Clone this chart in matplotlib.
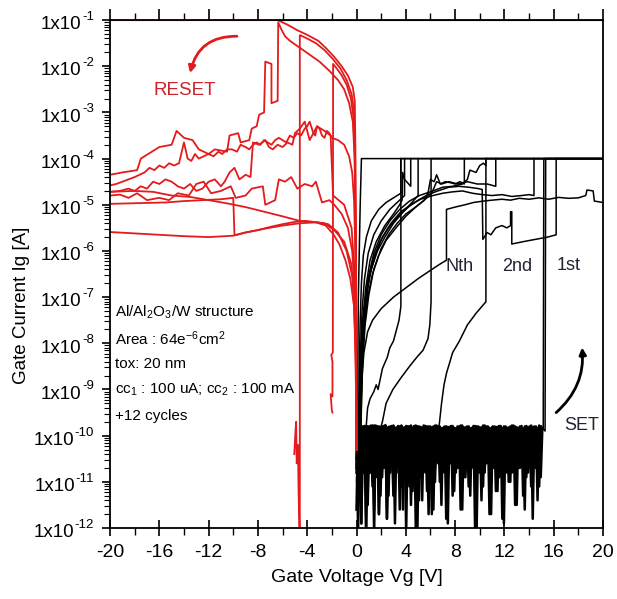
import numpy as np
import matplotlib.pyplot as plt
from matplotlib.ticker import LogLocator, MultipleLocator, FuncFormatter, NullFormatter

plt.rcParams['font.family'] = ['Liberation Sans', 'DejaVu Sans']
plt.rcParams['mathtext.fontset'] = 'custom'
plt.rcParams['mathtext.rm'] = 'Liberation Sans'
plt.rcParams['mathtext.it'] = 'Liberation Sans:italic'
plt.rcParams['mathtext.bf'] = 'Liberation Sans:bold'

RED = '#e41a1c'

y_tick_exponents = list(range(-12, 0))

# ---- SET (positive sweep) : noise floor before switching, log10(Ig) ----
noise_step_v = 0.13
noise_a = [
    -10.4, -9.8, -10.9, -9.78, -11.9, -9.82, -10.7, -9.8, -11.5, -9.85, -10.6, -9.78, -12.1, -9.8, -10.9, -9.83, -11.3, -9.8, -10.6, -9.77,
    -11.8, -9.82, -10.8, -9.8, -11.1, -9.84, -10.5, -9.79, -11.6, -9.8, -10.7, -9.82, -12.1, -9.8, -10.9, -9.78, -11.2, -9.83, -10.6, -9.8,
    -11.4, -9.81, -10.8, -9.79, -10.5, -9.84, -11.7, -9.8, -10.7, -9.82, -11.0, -9.78, -10.6, -9.8, -11.5, -9.83, -10.8, -9.8, -11.9, -9.81,
    -10.6, -9.79, -11.2, -9.84, -10.7, -9.8, -11.6, -9.78, -10.9, -9.82, -10.5, -9.8, -11.3, -9.83, -10.7, -9.79, -12.0, -9.8, -10.8, -9.82,
    -11.1, -9.78, -10.6, -9.8, -11.7, -9.84, -10.7, -9.8, -11.2, -9.81, -10.9, -9.79, -11.8, -9.8, -10.6, -9.83, -11.0, -9.8, -10.8, -9.78,
    -11.5, -9.82, -10.7, -9.8, -10.6, -9.84, -11.6, -9.79, -10.8, -9.8, -11.1, -9.82, -10.6, -9.8, -11.4, -9.78, -10.9, -9.83, -10.7, -9.8,
]
noise_b = [
    -9.8, -10.7, -9.83, -11.4, -9.79, -10.6, -9.82, -12.0, -9.8, -10.8, -9.78, -11.0, -9.84, -10.6, -9.8, -11.7, -9.81, -10.9, -9.79, -10.5,
    -9.83, -11.3, -9.8, -10.7, -9.78, -11.9, -9.82, -10.6, -9.8, -11.1, -9.84, -10.8, -9.79, -10.6, -9.8, -11.5, -9.82, -10.7, -9.78, -12.1,
    -9.8, -10.9, -9.83, -10.6, -9.79, -11.2, -9.8, -10.8, -9.82, -11.6, -9.78, -10.5, -9.8, -11.0, -9.84, -10.7, -9.8, -11.8, -9.81, -10.6,
    -9.79, -11.3, -9.83, -10.8, -9.8, -10.6, -9.78, -11.6, -9.82, -10.9, -9.8, -11.1, -9.84, -10.6, -9.79, -12.0, -9.8, -10.7, -9.82, -11.4,
    -9.78, -10.8, -9.8, -10.5, -9.83, -11.7, -9.8, -10.7, -9.81, -11.2, -9.79, -10.6, -9.84, -11.9, -9.8, -10.8, -9.82, -11.0, -9.78, -10.6,
    -9.8, -11.5, -9.83, -10.7, -9.79, -11.3, -9.8, -10.9, -9.82, -10.6, -9.78, -11.8, -9.8, -10.7, -9.84, -11.1, -9.8, -10.6, -9.81, -11.4,
]

# ---- SET cycles after the noise floor (V, log10 Ig) ----
set_first_v = [0.05, 0.15, 0.3, 0.4, 20.0]
set_first_log = [-10.5, -7.0, -5.0, -4.0, -4.0]

set_1st_v = [15.3, 15.35, 20.0]
set_1st_log = [-9.9, -4.0, -4.0]

set_late_v = [15.15, 15.2, 20.0]
set_late_log = [-9.85, -4.0, -4.0]

set_2nd_v = [6.7, 6.9, 7.1, 7.3, 7.8, 8.35, 9.0, 9.7, 10.5, 10.5, 20.0]
set_2nd_log = [-9.8, -9.3, -8.9, -8.65, -8.2, -7.95, -7.6, -7.35, -7.1, -4.0, -4.0]

set_c3_v = [2.1, 2.4, 2.95, 3.6, 4.3, 4.9, 5.4, 5.8, 5.95, 6.05, 6.05, 20.0]
set_c3_log = [-9.7, -9.3, -9.0, -8.75, -8.5, -8.3, -8.15, -7.9, -7.6, -7.1, -4.0, -4.0]

set_c4_v = [0.8, 0.9, 1.1, 1.4, 1.6, 1.75, 2.1, 2.5, 2.7, 3.0, 3.2, 3.45, 3.6, 3.6, 20.0]
set_c4_log = [-9.75, -9.4, -9.2, -9.05, -8.9, -9.0, -8.55, -8.3, -8.1, -7.95, -7.75, -7.5, -7.2, -4.0, -4.0]

set_nth_v = [0.3, 0.4, 0.6, 0.9, 1.3, 2.0, 3.0, 4.0, 5.0, 6.0, 6.8, 7.3, 7.3, 8.0, 8.8, 9.5, 10.3, 11.0,
             11.8, 12.5, 13.2, 14.0, 14.8, 15.6, 16.4, 17.2, 18.0, 18.6, 18.7, 19.2, 19.3, 20.0]
set_nth_log = [-9.8, -8.9, -8.2, -7.75, -7.5, -7.25, -7.0, -6.8, -6.6, -6.42, -6.28, -6.2, -5.1, -5.05, -5.0, -4.95, -4.92, -4.9,
               -4.88, -4.9, -4.86, -4.88, -4.85, -4.88, -4.84, -4.86, -4.85, -4.8, -4.68, -4.7, -4.92, -4.95]

set_f1_v = [0.15, 0.22, 0.3, 0.4, 0.55, 0.8, 1.2, 1.8, 2.4, 3.0, 3.6, 3.6]
set_f1_log = [-9.9, -8.6, -7.5, -6.7, -6.1, -5.7, -5.35, -5.1, -4.95, -4.85, -4.75, -4.0]

set_f2_v = [0.2, 0.3, 0.45, 0.65, 0.95, 1.4, 2.0, 2.7, 3.3, 3.9, 3.9]
set_f2_log = [-9.9, -8.4, -7.3, -6.6, -6.05, -5.65, -5.35, -5.1, -4.95, -4.8, -4.0]

set_f3_v = [0.25, 0.35, 0.5, 0.75, 1.1, 1.6, 2.3, 3.0, 3.5, 3.7, 3.75, 3.9, 4.4, 4.4]
set_f3_log = [-9.9, -8.5, -7.5, -6.8, -6.2, -5.8, -5.45, -5.2, -5.0, -4.9, -4.3, -4.45, -4.6, -4.0]

set_f4_v = [0.2, 0.35, 0.55, 0.85, 1.2, 1.7, 2.3, 3.0, 3.8, 4.5, 5.0, 5.0]
set_f4_log = [-9.9, -8.6, -7.6, -6.9, -6.4, -6.0, -5.7, -5.4, -5.15, -4.95, -4.8, -4.0]

set_f5_v = [0.3, 0.45, 0.7, 1.0, 1.4, 2.0, 2.6, 3.3, 4.0, 4.8, 5.5, 5.8, 6.0, 6.3, 6.5, 6.8, 7.2, 7.6, 8.0, 8.4, 8.75, 8.75]
set_f5_log = [-9.9, -8.6, -7.6, -6.95, -6.4, -5.95, -5.65, -5.4, -5.2, -5.05, -4.9, -4.75, -4.45, -4.5, -4.35, -4.55, -4.5, -4.52, -4.55, -4.5, -4.55, -4.0]

set_f6_v = [0.35, 0.45, 0.65, 0.95, 1.4, 2.0, 2.7, 3.5, 4.3, 5.1, 6.2, 7.0, 7.8, 8.6, 9.0, 9.2, 9.7, 10.0, 10.3, 10.5, 10.5]
set_f6_log = [-9.9, -8.4, -7.3, -6.6, -6.05, -5.65, -5.35, -5.1, -4.92, -4.8, -4.7, -4.62, -4.6, -4.55, -4.45, -4.25, -4.3, -4.15, -4.1, -4.15, -4.0]

set_f7_v = [0.25, 0.4, 0.6, 0.9, 1.3, 1.9, 2.6, 3.4, 4.2, 5.0, 5.8, 6.6, 7.5, 8.3, 9.1, 9.9, 10.2, 10.25, 10.6, 10.9,
            11.3, 11.8, 12.2, 12.5, 12.5, 12.6, 12.6, 13.5, 14.5, 15.5, 16.2, 16.2, 20.0]
set_f7_log = [-9.9, -8.5, -7.4, -6.7, -6.2, -5.8, -5.5, -5.25, -5.05, -4.9, -4.78, -4.7, -4.62, -4.6, -4.62, -4.65, -4.67, -5.75, -5.6, -5.65,
              -5.5, -5.45, -5.5, -5.45, -5.15, -5.15, -5.85, -5.8, -5.75, -5.7, -5.65, -4.0, -4.0]

set_f8_v = [0.3, 0.4, 0.6, 0.9, 1.3, 1.8, 2.4, 3.2, 4.0, 4.8, 5.5, 6.1, 6.5, 6.9, 7.5, 8.2, 9.0, 9.8, 10.6, 11.3, 11.3]
set_f8_log = [-9.9, -8.7, -7.7, -7.0, -6.5, -6.1, -5.77, -5.5, -5.25, -5.05, -4.9, -4.75, -4.5, -4.55, -4.5, -4.55, -4.5, -4.55, -4.55, -4.6, -4.0]

set_f9_v = [0.35, 0.5, 0.7, 1.0, 1.5, 2.1, 2.8, 3.6, 4.4, 5.2, 6.2, 7.0, 7.8, 8.6, 9.4, 10.2, 11.0, 11.8, 12.6, 13.4, 14.0, 14.4, 14.4]
set_f9_log = [-9.9, -8.4, -7.3, -6.6, -6.1, -5.7, -5.4, -5.15, -5.0, -4.88, -4.8, -4.75, -4.72, -4.7, -4.75, -4.78, -4.8, -4.78, -4.82, -4.8, -4.78, -4.8, -4.0]

# (switching curve, noise list, offset into noise list)
set_cycles = [
    (set_1st_v, set_1st_log, noise_a, 1), (set_late_v, set_late_log, noise_b, 1),
    (set_2nd_v, set_2nd_log, noise_b, 38), (set_c3_v, set_c3_log, noise_a, 70),
    (set_c4_v, set_c4_log, noise_b, 90), (set_nth_v, set_nth_log, noise_a, 5),
    (set_f1_v, set_f1_log, noise_b, 11), (set_f2_v, set_f2_log, noise_a, 23),
    (set_f3_v, set_f3_log, noise_b, 44), (set_f4_v, set_f4_log, noise_a, 60),
    (set_f5_v, set_f5_log, noise_b, 81), (set_f6_v, set_f6_log, noise_a, 99),
    (set_f7_v, set_f7_log, noise_b, 104), (set_f8_v, set_f8_log, noise_a, 28),
    (set_f9_v, set_f9_log, noise_b, 52),
]

# ---- RESET cycles (negative sweep), (V, log10 Ig) ----
reset_a_v = [0, -0.02, -0.05, -0.09, -0.14, -0.3, -0.7, -1.2, -1.8, -2.5, -3.1, -4.0, -4.8, -5.6, -6.4, -20.0]
reset_a_log = [-10.3, -8.0, -5.8, -3.8, -2.75, -2.45, -2.2, -2.0, -1.8, -1.6, -1.45, -1.32, -1.22, -1.1, -1.0, -1.0]

reset_b_v = [0, -0.03, -0.07, -0.12, -0.2, -0.4, -0.8, -1.3, -1.9, -2.6, -3.3, -4.0, -4.55, -4.6, -4.6,
             -4.7, -4.75, -4.85, -4.9, -4.95, -5.05]
reset_b_log = [-10.3, -7.5, -5.2, -3.7, -2.95, -2.6, -2.3, -2.05, -1.85, -1.65, -1.5, -1.4, -1.33, -1.33, -12.5,
               -11.2, -10.2, -10.6, -9.7, -9.9, -10.4]

reset_c_v = [0, -0.03, -0.08, -0.15, -0.25, -0.45, -0.8, -1.2, -1.6, -1.9, -1.92, -2.05, -1.95, -1.95, -2.1, -2.0, -1.95]
reset_c_log = [-10.3, -7.8, -5.5, -3.9, -3.1, -2.7, -2.4, -2.2, -2.05, -1.95, -8.2, -8.25, -8.4, -9.15, -9.1, -9.45, -9.5]

reset_d_v = [0, -0.03, -0.08, -0.15, -0.3, -0.6, -1.0, -1.5, -2.2, -3.0, -3.8, -4.6, -5.4, -5.8, -6.1, -6.35, -6.4,
             -6.9, -6.9, -7.4, -7.5, -7.9, -8.1, -8.5, -8.7, -9.4, -9.6, -10.3, -10.5, -11.5, -12.0, -12.8, -13.3,
             -14.0, -14.6, -15.0, -16.0, -17.5, -17.8, -19.0, -20.0]
reset_d_log = [-10.3, -7.9, -5.6, -4.0, -3.2, -2.8, -2.5, -2.3, -2.1, -1.9, -1.75, -1.6, -1.45, -1.35, -1.2, -1.05, -2.75,
               -2.8, -1.95, -1.9, -3.0, -3.05, -3.3, -3.35, -3.6, -3.65, -3.45, -3.5, -3.85, -3.8, -3.9, -3.8, -3.6,
               -3.55, -3.4, -3.7, -3.75, -4.0, -4.25, -4.3, -4.35]

reset_e_v = [0, -0.04, -0.1, -0.2, -0.35, -0.6, -1.0, -1.5, -2.0, -2.2, -2.4, -2.6, -2.8, -3.0, -3.2, -3.35,
             -3.5, -3.8, -4.0, -4.2, -4.5, -4.8, -5.1, -5.4, -5.7, -6.0, -6.3, -6.6, -6.9, -7.2, -7.5, -7.8,
             -8.1, -8.4, -8.7, -9.0, -9.4, -9.7, -10.1, -10.5, -10.9, -11.2, -11.6, -12.0, -12.4, -12.8, -13.1,
             -13.4, -13.7, -14.0, -14.4, -14.8, -15.2, -15.6, -16.0, -16.4, -16.8, -17.2, -17.6, -18.0, -18.5,
             -19.0, -19.5, -20.0]
reset_e_log = [-10.3, -7.6, -5.9, -4.9, -4.3, -3.95, -3.7, -3.6, -3.55, -3.45, -3.4, -3.55, -3.5, -3.35, -3.3, -3.5,
               -3.45, -3.2, -3.3, -3.35, -3.5, -3.45, -3.55, -3.5, -3.65, -3.6, -3.55, -3.6, -3.7, -3.65, -3.6, -3.7,
               -3.65, -3.7, -3.8, -3.75, -3.7, -3.85, -3.8, -3.8, -3.9, -3.85, -3.95, -3.9, -3.95, -4.0, -3.9,
               -4.05, -4.0, -3.65, -4.1, -4.15, -4.1, -4.2, -4.15, -4.25, -4.2, -4.3, -4.35, -4.4, -4.45,
               -4.5, -4.55, -4.58]

reset_f_v = [0, -0.05, -0.15, -0.4, -1.0, -1.9, -2.1, -2.6, -3.2, -3.5, -3.8, -4.2, -4.6, -5.0, -5.2, -5.6, -6.0,
             -6.4, -6.8, -7.1, -7.4, -7.9, -8.4, -8.6, -9.0, -9.5, -9.9, -10.3, -10.7, -11.0, -11.5, -12.0, -12.5,
             -13.0, -13.5, -14.0, -14.5, -15.0, -15.5, -16.0, -16.5, -17.0, -17.5, -18.0, -18.5, -19.2, -20.0]
reset_f_log = [-10.3, -8.0, -6.5, -5.5, -5.0, -4.8, -3.5, -3.4, -3.3, -3.45, -3.6, -3.2, -3.35, -3.45, -3.7, -3.65, -3.75,
               -3.7, -3.8, -3.75, -3.6, -3.7, -3.65, -4.4, -4.35, -4.45, -4.2, -4.3, -4.5, -4.6, -4.45, -4.5, -4.65,
               -4.7, -4.55, -4.65, -4.6, -4.5, -4.45, -4.55, -4.5, -4.65, -4.6, -4.7, -4.65, -4.7, -4.72]

reset_g_v = [0, -0.05, -0.15, -0.35, -0.7, -1.2, -1.8, -2.2, -2.8, -3.3, -3.6, -4.2, -4.8, -5.3, -5.8, -6.3, -6.6,
             -7.4, -7.6, -8.5, -9.0, -9.8, -10.2, -11.0, -11.8, -12.4, -13.0, -13.6, -14.5, -15.2, -16.0, -17.0,
             -17.8, -18.5, -19.2, -20.0]
reset_g_log = [-10.3, -8.2, -6.8, -6.0, -5.5, -5.2, -5.0, -4.9, -4.95, -4.5, -4.6, -4.55, -4.65, -4.4, -4.5, -4.45, -4.9,
               -5.0, -4.6, -4.65, -4.8, -4.85, -4.6, -4.7, -4.75, -4.5, -4.55, -4.8, -4.75, -4.9, -4.85, -4.9,
               -4.75, -4.85, -4.78, -4.8]

reset_h_v = [0, -0.08, -0.3, -0.8, -1.5, -2.3, -3.2, -4.6, -6.0, -7.5, -9.0, -9.9, -10.0, -11.0, -12.5, -14.0,
             -15.5, -17.0, -18.5, -20.0]
reset_h_log = [-10.3, -8.0, -6.6, -6.0, -5.6, -5.42, -5.38, -5.4, -5.45, -5.52, -5.6, -5.66, -4.85, -4.88, -4.9, -4.92,
               -4.95, -4.96, -4.97, -4.98]

reset_i_v = [0, -0.05, -0.2, -0.5, -0.9, -1.4, -1.9, -2.5, -3.3, -4.2, -5.0, -6.0, -7.0, -8.0, -9.0, -10.0,
             -12.0, -14.0, -16.0, -18.0, -20.0]
reset_i_log = [-10.3, -8.5, -7.2, -6.6, -6.2, -5.85, -5.63, -5.45, -5.38, -5.35, -5.37, -5.42, -5.48, -5.55, -5.6, -5.67,
               -5.7, -5.68, -5.65, -5.62, -5.59]

reset_j_v = [0, -0.1, -0.4, -1.0, -1.8, -2.6, -3.5, -4.6, -6.0, -7.5, -9.0, -10.5, -12.0, -13.5, -15.0, -16.5,
             -18.0, -20.0]
reset_j_log = [-10.3, -7.5, -6.3, -5.8, -5.55, -5.4, -5.37, -5.35, -5.25, -5.15, -5.05, -4.97, -4.9, -4.83, -4.8, -4.72,
               -4.7, -4.72]

reset_cycles = [
    (reset_a_v, reset_a_log), (reset_b_v, reset_b_log), (reset_c_v, reset_c_log), (reset_d_v, reset_d_log),
    (reset_e_v, reset_e_log), (reset_f_v, reset_f_log), (reset_g_v, reset_g_log), (reset_h_v, reset_h_log),
    (reset_i_v, reset_i_log), (reset_j_v, reset_j_log),
]

info_lines = ['Al/Al$_2$O$_3$/W structure', 'Area : 64e$^{-6}$cm$^2$', 'tox: 20 nm',
              'cc$_1$ : 100 uA; cc$_2$ : 100 mA', '+12 cycles']

# %% plot
fig = plt.figure(figsize=(6.17, 5.99), dpi=100)
ax = fig.add_axes([0.1783, 0.1185, 0.799, 0.848])

ax.plot(set_first_v, 10.0 ** np.array(set_first_log), color='k', lw=1.1)
for sv, slog, noise, off in set_cycles:
    n = int(sv[0] / noise_step_v)
    nlog = np.array(noise[off:off + n])
    nv = np.arange(len(nlog)) * noise_step_v
    ax.plot(nv, 10.0 ** nlog, color='k', lw=1.8)
    v = np.concatenate([nv[-1:], sv])
    lg = np.concatenate([nlog[-1:], slog])
    ax.plot(v, 10.0 ** lg, color='k', lw=1.1)

for rv, rlog in reset_cycles:
    ax.plot(rv, 10.0 ** np.array(rlog), color=RED, lw=1.3)

ax.set_yscale('log')
ax.set_xlim(-20, 20)
ax.set_ylim(1e-12, 1e-1)

ax.xaxis.set_major_locator(MultipleLocator(4))
ax.xaxis.set_minor_locator(MultipleLocator(2))
ax.yaxis.set_major_locator(LogLocator(base=10, numticks=20))
ax.yaxis.set_minor_locator(LogLocator(base=10, subs=np.arange(2, 10), numticks=20))
ax.yaxis.set_minor_formatter(NullFormatter())
ax.yaxis.set_major_formatter(NullFormatter())
ax.xaxis.set_major_formatter(FuncFormatter(lambda x, p: '%d' % x))

# y tick labels "1x10" with a small raised exponent
ytrans = ax.get_yaxis_transform()
for e in y_tick_exponents:
    sup = ax.text(-0.0325, 10.0 ** e, '-%d' % -e, transform=ytrans, fontsize=9.5,
                  ha='right', va='baseline')
    ax.annotate('1x10', xy=(0, 0), xycoords=sup, xytext=(-0.3, -4.5), textcoords='offset points',
                fontsize=13.5, ha='right', va='baseline', annotation_clip=False)

ax.tick_params(axis='x', which='major', direction='inout', length=11, width=1.2, labelsize=14, pad=6)
ax.tick_params(axis='x', which='minor', direction='out', length=5, width=1.0)
ax.tick_params(axis='y', which='major', direction='out', length=6, width=1.2)
ax.tick_params(axis='y', which='minor', direction='out', length=4, width=0.8)

top = ax.secondary_xaxis('top')
top.xaxis.set_major_locator(MultipleLocator(4))
top.xaxis.set_minor_locator(MultipleLocator(2))
top.tick_params(which='major', direction='out', length=8, width=1.2, labeltop=False)
top.tick_params(which='minor', direction='out', length=5, width=1.0)

for s in ax.spines.values():
    s.set_linewidth(1.3)

ax.set_xlabel('Gate Voltage Vg [V]', fontsize=14, labelpad=6)
ax.set_ylabel('Gate Current Ig [A]', fontsize=13.5)
ax.yaxis.set_label_coords(-0.162, 0.439)

for i, line in enumerate(info_lines):
    ax.text(-19.6, 10 ** (-7.33 - 0.56 * i), line, fontsize=11, va='center', ha='left')

ax.text(-13.95, 10 ** -2.52, 'RESET', color='#cc2229', fontsize=13.5, ha='center', va='center')
ax.text(8.35, 10 ** -6.34, 'Nth', fontsize=13, ha='center', va='center', color='#222233')
ax.text(13.0, 10 ** -6.34, '2nd', fontsize=13, ha='center', va='center', color='#222233')
ax.text(17.2, 10 ** -6.32, '1st', fontsize=13, ha='center', va='center', color='#222233')
ax.text(18.25, 10 ** -9.79, 'SET', fontsize=13, ha='center', va='center', color='#222233')

ax.annotate('', xy=(-13.5, 10 ** -2.15), xytext=(-9.7, 10 ** -1.35),
            arrowprops=dict(arrowstyle='-|>', color=RED, lw=2.0, mutation_scale=10,
                            connectionstyle='arc3,rad=0.4', shrinkA=0, shrinkB=0))
ax.annotate('', xy=(18.3, 10 ** -8.09), xytext=(16.2, 10 ** -9.5),
            arrowprops=dict(arrowstyle='-|>', color='k', lw=2.0, mutation_scale=10,
                            connectionstyle='arc3,rad=0.25', shrinkA=0, shrinkB=0))

fig.savefig('out.png', dpi=100)
